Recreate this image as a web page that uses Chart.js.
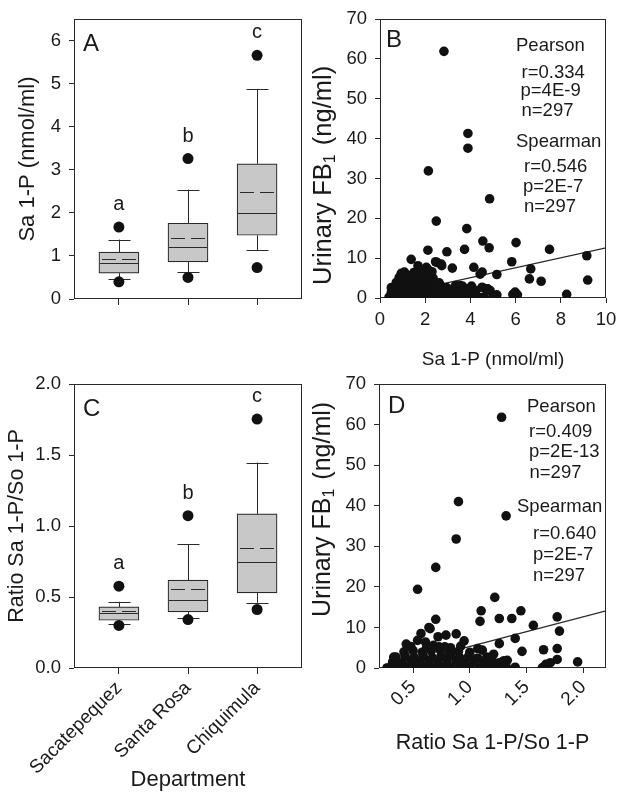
<!DOCTYPE html>
<html>
<head>
<meta charset="utf-8">
<script src="https://cdn.jsdelivr.net/npm/chart.js@4.4.0/dist/chart.umd.min.js"></script>
<style>
  html, body { margin: 0; padding: 0; background: #ffffff; }
  #wrap { position: relative; width: 624px; height: 800px; overflow: hidden; }
  canvas { position: absolute; }
</style>
</head>
<body>
<div id="wrap">
  <canvas id="cA" width="312" height="340" style="left:0;top:0"></canvas>
  <canvas id="cB" width="312" height="376" style="left:312px;top:0"></canvas>
  <canvas id="cC" width="312" height="460" style="left:0;top:340px"></canvas>
  <canvas id="cD" width="312" height="460" style="left:312px;top:340px"></canvas>
</div>
<script>
// ---------------- DATA ----------------
const departments = ['Sacatepequez', 'Santa Rosa', 'Chiquimula'];
const groupLetters = ['a', 'b', 'c'];

// Panel A: Sa 1-P (nmol/ml) box plots
const saQ1 = [0.60, 0.86, 1.48];
const saMedian = [0.83, 1.21, 2.00];
const saMean = [0.92, 1.41, 2.49];
const saQ3 = [1.09, 1.76, 3.14];
const saWhiskerLow = [0.47, 0.62, 1.13];
const saWhiskerHigh = [1.38, 2.54, 4.88];
const saOutlierLow = [0.40, 0.50, 0.73];
const saOutlierHigh = [1.67, 3.26, 5.66];
const saTicks = [0, 1, 2, 3, 4, 5, 6];

// Panel C: Ratio Sa 1-P/So 1-P box plots
const ratioQ1 = [0.336, 0.395, 0.529];
const ratioMedian = [0.390, 0.482, 0.746];
const ratioMean = [0.398, 0.553, 0.845];
const ratioQ3 = [0.430, 0.619, 1.085];
const ratioWhiskerLow = [0.313, 0.355, 0.459];
const ratioWhiskerHigh = [0.466, 0.870, 1.447];
const ratioOutlierLow = [0.300, 0.341, 0.412];
const ratioOutlierHigh = [0.576, 1.073, 1.753];
const ratioTicks = [0, 0.5, 1.0, 1.5, 2.0];

// Panel B: urinary FB1 vs Sa 1-P
const bSa1P = [
  2.83, 3.89, 3.89, 2.14, 4.85, 2.49, 3.84, 4.55, 6.02, 4.83, 7.50, 2.12, 2.96, 3.74, 9.15, 1.38, 5.83, 6.67, 3.20, 4.15,
  4.52, 5.17, 6.61, 7.13, 9.19, 8.26, 5.98, 5.98, 5.88, 6.08, 5.02, 5.17, 4.87, 4.05, 4.52, 4.80, 3.65, 4.25, 4.70, 3.60,
  3.81, 3.37, 3.00, 2.46, 2.71, 1.68, 2.05, 0.94, 1.31, 2.53, 2.73, 0.50, 0.40, 5.00, 3.34, 4.43, 4.76, 3.55, 3.77, 4.21,
  0.45, 0.55, 0.68, 0.80, 0.92, 1.05, 1.18, 1.30, 1.42, 1.55, 1.68, 1.80, 1.93, 2.05, 2.20, 2.33, 2.47, 2.60, 2.75, 2.90,
  3.05, 3.22, 3.40, 3.55, 3.75, 3.95, 4.15, 4.35, 4.60,
  0.50, 0.62, 0.75, 0.88, 1.00, 1.12, 1.25, 1.38, 1.50, 1.62, 1.75, 1.88, 2.00, 2.12, 2.25, 2.38, 2.52, 2.66, 2.82, 3.10,
  3.30, 3.50, 3.90,
  0.60, 0.78, 0.92, 1.05, 1.20, 1.33, 1.47, 1.60, 1.73, 1.86, 2.00, 2.14, 2.28, 2.42, 2.58, 2.75, 2.95,
  0.72, 0.90, 1.04, 1.18, 1.32, 1.46, 1.60, 1.74, 1.88, 2.02, 2.16, 2.30, 2.45, 2.62,
  0.85, 1.00, 1.15, 1.45, 1.60, 1.75, 1.90, 2.05, 2.20, 2.35,
  1.08, 1.50, 1.85, 2.00, 2.15, 2.30
];
const bFB1 = [
  61.9, 41.3, 37.6, 31.9, 24.9, 19.3, 17.4, 14.3, 13.9, 12.6, 12.2, 12.0, 11.6, 12.2, 10.6, 9.7, 9.1, 7.3, 7.5, 7.7,
  6.5, 5.9, 4.8, 4.2, 4.5, 0.9, 1.5, 0.2, 0.9, 0.8, 0.6, 0.8, 1.9, 3.0, 2.7, 2.1, 3.0, 1.9, 2.3, 2.6,
  1.1, 0.3, 1.9, 9.1, 8.5, 8.1, 7.7, 6.2, 5.6, 8.9, 8.1, 2.6, 0.2, 0.3, 3.1, 6.0, 2.3, 3.1, 1.9, 1.5,
  0.1, 0.3, 0.0, 0.2, 0.4, 0.1, 0.3, 0.0, 0.2, 0.5, 0.1, 0.3, 0.0, 0.2, 0.4, 0.1, 0.3, 0.2, 0.0, 0.4,
  0.1, 0.2, 0.3, 0.0, 0.2, 0.4, 0.1, 0.2, 0.3,
  1.4, 1.2, 1.6, 1.3, 1.5, 1.2, 1.7, 1.4, 1.3, 1.6, 1.2, 1.5, 1.4, 1.7, 1.3, 1.5, 1.2, 1.6, 1.3, 1.4,
  1.2, 1.5, 1.3,
  2.6, 2.9, 2.5, 2.8, 2.7, 3.0, 2.6, 2.9, 2.5, 2.8, 3.0, 2.6, 2.9, 2.7, 2.5, 2.8, 2.6,
  3.9, 4.2, 3.8, 4.1, 4.3, 3.9, 4.2, 4.0, 4.3, 3.8, 4.1, 4.0, 3.9, 3.8,
  5.2, 5.4, 5.0, 5.3, 5.5, 5.1, 5.4, 5.2, 5.5, 5.0,
  6.5, 6.4, 6.8, 6.3, 7.0, 6.6
];
const bFit = [0.10, 1.25];   // intercept, slope
const bXTicks = [0, 2, 4, 6, 8, 10];
const fbTicks = [0, 10, 20, 30, 40, 50, 60, 70];
const bStats = ['Pearson', 'r=0.334', 'p=4E-9', 'n=297', 'Spearman', 'r=0.546', 'p=2E-7', 'n=297'];

// Panel D: urinary FB1 vs ratio Sa 1-P/So 1-P
const dRatio = [
  1.28, 0.90, 1.32, 0.88, 0.70, 0.54, 1.22, 1.45, 1.10, 1.09, 1.26, 1.37, 1.77, 0.70, 1.56, 1.79, 1.40, 1.26, 1.46, 1.65,
  1.77, 1.95, 1.77, 1.64, 1.67, 1.71, 1.21, 1.33, 1.14, 1.07, 1.11, 1.06, 0.95, 0.88, 0.79, 0.72, 0.65, 0.57, 0.54, 0.61,
  0.73, 0.83, 0.44, 0.33, 0.27, 0.64, 1.26, 1.30, 1.18,
  0.28, 0.36, 0.44, 0.52, 0.60, 0.68, 0.76, 0.84, 0.92, 1.00, 1.08, 1.16, 1.24, 1.32, 1.40,
  0.32, 0.40, 0.48, 0.56, 0.64, 0.72, 0.80, 0.88, 0.96, 1.04, 1.12, 1.20, 1.28,
  0.35, 0.43, 0.51, 0.59, 0.67, 0.75, 0.83, 0.91, 0.99, 1.07, 1.15,
  0.42, 0.50, 0.58, 0.66, 0.74, 0.82, 0.90, 1.00,
  0.48, 0.62, 0.68, 0.78, 0.92
];
const dFB1 = [
  61.8, 41.0, 37.5, 31.8, 24.8, 19.4, 17.4, 14.1, 14.1, 11.5, 12.2, 12.2, 12.6, 12.0, 10.5, 9.1, 7.3, 6.0, 4.1, 4.5,
  4.8, 1.5, 2.1, 0.1, 0.9, 1.3, 3.4, 1.9, 0.7, 4.8, 4.4, 2.3, 6.7, 8.4, 8.1, 7.7, 9.7, 8.5, 6.8, 6.4,
  5.2, 5.0, 5.9, 2.7, 0.0, 10.0, 1.3, 1.8, 0.6,
  0.0, 0.3, 0.1, 0.4, 0.2, 0.0, 0.3, 0.1, 0.4, 0.2, 0.0, 0.3, 0.1, 0.4, 0.2,
  1.5, 1.3, 1.7, 1.4, 1.6, 1.2, 1.5, 1.8, 1.3, 1.6, 1.4, 1.7, 1.2,
  2.7, 3.0, 2.6, 2.9, 2.5, 2.8, 3.1, 2.6, 2.9, 2.4, 2.7,
  4.0, 4.3, 3.9, 4.2, 4.4, 3.8, 4.1, 3.9,
  5.3, 5.1, 5.6, 5.2, 5.4
];
const dFit = [-2.03, 7.33];  // intercept, slope
const dXTicks = [0.5, 1.0, 1.5, 2.0];
const dStats = ['Pearson', 'r=0.409', 'p=2E-13', 'n=297', 'Spearman', 'r=0.640', 'p=2E-7', 'n=297'];

// ---------------- STYLE ----------------
const FAMILY = "'Liberation Sans', Arial, Helvetica, sans-serif";
const TXT = '#1a1a1a';
const LINE = '#2a2a2a';
const DOT = '#111111';
const BOXFILL = '#c8c8c8';
const TICK_SIZE = 18.5;

Chart.defaults.font.family = FAMILY;
Chart.defaults.color = TXT;
Chart.defaults.animation = false;
Chart.defaults.plugins.legend.display = false;
Chart.defaults.plugins.tooltip.enabled = false;

const framePlugin = {
  id: 'frame',
  beforeDatasetsDraw(c) {
    const a = c.chartArea, ctx = c.ctx;
    ctx.save();
    ctx.strokeStyle = LINE;
    ctx.lineWidth = 1;
    ctx.strokeRect(Math.round(a.left) + 0.5, Math.round(a.top) + 0.5,
      Math.round(a.right - a.left) - 1, Math.round(a.bottom - a.top) - 1);
    ctx.restore();
  }
};

const boxPlugin = {
  id: 'boxParts',
  beforeDatasetsDraw(c, args, o) {
    const ctx = c.ctx, x = c.scales.x, y = c.scales.y;
    ctx.save();
    ctx.strokeStyle = LINE;
    ctx.lineWidth = 1;
    ctx.beginPath();
    o.q1.forEach((_, i) => {
      const cx = Math.round(x.getPixelForValue(i)) + 0.5;
      ctx.moveTo(cx, y.getPixelForValue(o.wLow[i]));
      ctx.lineTo(cx, y.getPixelForValue(o.q1[i]));
      ctx.moveTo(cx, y.getPixelForValue(o.q3[i]));
      ctx.lineTo(cx, y.getPixelForValue(o.wHigh[i]));
      [o.wLow[i], o.wHigh[i]].forEach(w => {
        const py = Math.round(y.getPixelForValue(w)) + 0.5;
        ctx.moveTo(cx - o.cap, py);
        ctx.lineTo(cx + o.cap, py);
      });
    });
    ctx.stroke();
    ctx.restore();
  },
  afterDatasetsDraw(c, args, o) {
    const ctx = c.ctx, x = c.scales.x, y = c.scales.y;
    ctx.save();
    ctx.strokeStyle = LINE;
    ctx.lineWidth = 1.2;
    o.q1.forEach((_, i) => {
      const cx = x.getPixelForValue(i);
      const left = Math.round(cx - o.half) + 1, right = Math.round(cx + o.half) - 1;
      const pm = Math.round(y.getPixelForValue(o.median[i])) + 0.5;
      ctx.setLineDash([]);
      ctx.beginPath(); ctx.moveTo(left, pm); ctx.lineTo(right, pm); ctx.stroke();
      const pmean = Math.round(y.getPixelForValue(o.mean[i])) + 0.5;
      ctx.setLineDash([14, 6]);
      ctx.lineDashOffset = -2;
      ctx.beginPath(); ctx.moveTo(left, pmean); ctx.lineTo(right, pmean); ctx.stroke();
    });
    ctx.setLineDash([]);
    ctx.fillStyle = TXT;
    ctx.font = '20px ' + FAMILY;
    ctx.textAlign = 'center';
    ctx.textBaseline = 'alphabetic';
    o.letters.forEach((t, i) => {
      ctx.fillText(t, x.getPixelForValue(i), y.getPixelForValue(o.oHigh[i]) - 17);
    });
    ctx.restore();
  }
};

const notesPlugin = {
  id: 'notes',
  afterDatasetsDraw(c, args, o) {
    const a = c.chartArea, ctx = c.ctx;
    ctx.save();
    ctx.fillStyle = TXT;
    ctx.textBaseline = 'alphabetic';
    ctx.textAlign = 'left';
    o.items.forEach(it => {
      ctx.font = it.size + 'px ' + FAMILY;
      ctx.fillText(it.text, a.left + it.dx, a.top + it.dy);
    });
    ctx.restore();
  }
};

// vertical axis title with a true subscript (Urinary FB1)
const yTitlePlugin = {
  id: 'yTitle',
  afterDraw(c, args, o) {
    const ctx = c.ctx, a = c.chartArea;
    ctx.save();
    ctx.translate(o.x, a.bottom - o.fromBottom);
    ctx.rotate(-Math.PI / 2);
    ctx.fillStyle = TXT;
    ctx.textAlign = 'left';
    ctx.textBaseline = 'middle';
    let pos = 0;
    o.parts.forEach(p => {
      ctx.font = p.size + 'px ' + FAMILY;
      ctx.fillText(p.text, pos, p.dy || 0);
      pos += ctx.measureText(p.text).width + (p.gap || 0);
    });
    ctx.restore();
  }
};

function fbTitleParts(size) {
  return [
    { text: 'Urinary FB', size: size },
    { text: '1', size: Math.round(size * 0.62), dy: Math.round(size * 0.28), gap: 2 },
    { text: ' (ng/ml)', size: size }
  ];
}

function gridOpts(len) {
  return { drawOnChartArea: false, drawTicks: true, tickLength: len, color: LINE, lineWidth: 1, offset: false };
}

function valueAxis(min, max, ticks, fmt, width, title, titleSize, titlePad) {
  return {
    type: 'linear', position: 'left', min: min, max: max,
    afterBuildTicks: s => { s.ticks = ticks.map(v => ({ value: v })); },
    ticks: { callback: fmt, font: { size: TICK_SIZE }, padding: 8, color: TXT },
    grid: gridOpts(5),
    border: { display: false },
    afterFit: s => { s.width = width; },
    title: title ? { display: true, text: title, color: TXT, font: { size: titleSize, lineHeight: 1 }, padding: { top: titlePad, bottom: 0 } }
                 : { display: false }
  };
}

function categoryAxis(showLabels, height, title) {
  return {
    type: 'linear', position: 'bottom', min: -0.65, max: 2.65, offset: false,
    afterBuildTicks: s => { s.ticks = departments.map((_, i) => ({ value: i })); },
    ticks: { display: showLabels, callback: v => departments[v], autoSkip: false, minRotation: 45, maxRotation: 45,
             font: { size: 19 }, padding: 3, color: TXT },
    grid: gridOpts(6),
    border: { display: false },
    afterFit: s => { s.height = height; },
    title: title ? { display: true, text: title, color: TXT, font: { size: 22, lineHeight: 1 }, padding: { top: 0, bottom: 9 } } : { display: false }
  };
}

function boxDatasets(q1, q3, oLow, oHigh) {
  return [
    { type: 'bar', data: departments.map((_, i) => ({ x: i, y: [q1[i], q3[i]] })),
      backgroundColor: BOXFILL, borderColor: LINE, borderWidth: 1.2, borderSkipped: false, barThickness: 40, order: 2 },
    { type: 'scatter', data: departments.map((_, i) => ({ x: i, y: oLow[i] })).concat(departments.map((_, i) => ({ x: i, y: oHigh[i] }))),
      pointRadius: 5.5, pointBackgroundColor: DOT, pointBorderWidth: 0, order: 1 }
  ];
}

function scatterDatasets(xs, ys, fit, xMax) {
  const x0 = Math.min.apply(null, xs);
  return [
    { type: 'scatter', data: xs.map((v, i) => ({ x: v, y: ys[i] })), pointRadius: 4.8,
      pointBackgroundColor: DOT, pointBorderWidth: 0, order: 1 },
    { type: 'line', data: [{ x: x0, y: fit[0] + fit[1] * x0 }, { x: xMax, y: fit[0] + fit[1] * xMax }],
      borderColor: LINE, borderWidth: 1.3, pointRadius: 0, fill: false, order: 2 }
  ];
}

function statItems(stats, dxs, dys) {
  return stats.map((t, i) => ({ text: t, dx: dxs[i], dy: dys[i], size: 18.5 }));
}

// ---------------- PANEL A ----------------
new Chart(document.getElementById('cA'), {
  type: 'scatter',
  data: { datasets: boxDatasets(saQ1, saQ3, saOutlierLow, saOutlierHigh) },
  options: {
    responsive: false,
    layout: { padding: { top: 15, right: 10, left: 0, bottom: 0 } },
    scales: {
      x: categoryAxis(false, 41, null),
      y: valueAxis(0, 6.5, saTicks, v => String(v), 74, 'Sa 1-P (nmol/ml)', 22, 16.5)
    },
    plugins: {
      boxParts: { q1: saQ1, q3: saQ3, median: saMedian, mean: saMean, wLow: saWhiskerLow, wHigh: saWhiskerHigh,
                  oHigh: saOutlierHigh, letters: groupLetters, half: 20, cap: 11 },
      notes: { items: [{ text: 'A', dx: 9, dy: 32, size: 24 }] }
    }
  },
  plugins: [framePlugin, boxPlugin, notesPlugin]
});

// ---------------- PANEL C ----------------
new Chart(document.getElementById('cC'), {
  type: 'scatter',
  data: { datasets: boxDatasets(ratioQ1, ratioQ3, ratioOutlierLow, ratioOutlierHigh) },
  options: {
    responsive: false,
    layout: { padding: { top: 44, right: 10, left: 0, bottom: 0 } },
    scales: {
      x: categoryAxis(true, 132, 'Department'),
      y: valueAxis(0, 2.0, ratioTicks, v => v.toFixed(1), 74, 'Ratio Sa 1-P/So 1-P', 21.5, 6)
    },
    plugins: {
      boxParts: { q1: ratioQ1, q3: ratioQ3, median: ratioMedian, mean: ratioMean, wLow: ratioWhiskerLow, wHigh: ratioWhiskerHigh,
                  oHigh: ratioOutlierHigh, letters: groupLetters, half: 20, cap: 11 },
      notes: { items: [{ text: 'C', dx: 9, dy: 32, size: 24 }] }
    }
  },
  plugins: [framePlugin, boxPlugin, notesPlugin]
});

// ---------------- PANEL B ----------------
new Chart(document.getElementById('cB'), {
  type: 'scatter',
  data: { datasets: scatterDatasets(bSa1P, bFB1, bFit, 10) },
  options: {
    responsive: false,
    layout: { padding: { top: 15, right: 18, left: 0, bottom: 0 } },
    scales: {
      x: {
        type: 'linear', position: 'bottom', min: 0, max: 10,
        afterBuildTicks: s => { s.ticks = bXTicks.map(v => ({ value: v })); },
        ticks: { font: { size: TICK_SIZE }, padding: 6, color: TXT, maxRotation: 0 },
        grid: gridOpts(5), border: { display: false },
        afterFit: s => { s.height = 78; },
        title: { display: true, text: 'Sa 1-P (nmol/ml)', color: TXT, font: { size: 19, lineHeight: 1 }, padding: { top: 0, bottom: 6.5 } }
      },
      y: valueAxis(0, 70, fbTicks, v => String(v), 68, null)
    },
    plugins: {
      yTitle: { x: 12, fromBottom: 13, parts: fbTitleParts(25.5) },
      notes: { items: [{ text: 'B', dx: 6, dy: 28, size: 24 }].concat(
        statItems(bStats, [136, 141.5, 140.5, 141.5, 136, 144, 143, 144], [32, 59, 77, 97, 128, 153, 173, 193])) }
    }
  },
  plugins: [framePlugin, notesPlugin, yTitlePlugin]
});

// ---------------- PANEL D ----------------
new Chart(document.getElementById('cD'), {
  type: 'scatter',
  data: { datasets: scatterDatasets(dRatio, dFB1, dFit, 2.2) },
  options: {
    responsive: false,
    layout: { padding: { top: 44, right: 18, left: 0, bottom: 0 } },
    scales: {
      x: {
        type: 'linear', position: 'bottom', min: 0.2, max: 2.2,
        afterBuildTicks: s => { s.ticks = dXTicks.map(v => ({ value: v })); },
        ticks: { callback: v => v.toFixed(1), font: { size: 19 }, padding: 3, color: TXT, minRotation: 45, maxRotation: 45, autoSkip: false },
        grid: gridOpts(5), border: { display: false },
        afterFit: s => { s.height = 132; },
        title: { display: true, text: 'Ratio Sa 1-P/So 1-P', color: TXT, font: { size: 21.5, lineHeight: 1 }, padding: { top: 0, bottom: 46 } }
      },
      y: valueAxis(0, 70, fbTicks, v => String(v), 67, null)
    },
    plugins: {
      yTitle: { x: 11, fromBottom: 51, parts: fbTitleParts(25) },
      notes: { items: [{ text: 'D', dx: 9, dy: 28.5, size: 24 }].concat(
        statItems(dStats, [148, 150, 150, 150.5, 138, 154, 154, 154], [27.5, 52.5, 72.5, 94, 127.5, 155, 175.5, 196.5])) }
    }
  },
  plugins: [framePlugin, notesPlugin, yTitlePlugin]
});
</script>
</body>
</html>
